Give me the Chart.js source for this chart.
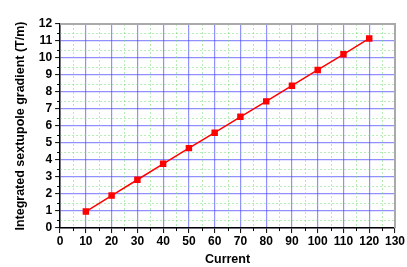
<!DOCTYPE html>
<html>
<head>
<meta charset="utf-8">
<script src="https://cdn.jsdelivr.net/npm/chart.js@4"></script>
<style>
  html, body { margin: 0; padding: 0; background: #fff; }
  #wrap { width: 407px; height: 267px; }
</style>
</head>
<body>
<div id="wrap"><canvas id="c" width="407" height="267"></canvas></div>
<script>
const currents = [10, 20, 30, 40, 50, 60, 70, 80, 90, 100, 110, 120];
const gradients = [0.97, 1.91, 2.84, 3.78, 4.70, 5.61, 6.54, 7.45, 8.37, 9.30, 10.22, 11.15];
const xTitle = "Current";
const yTitle = "Integrated sextupole gradient (T/m)";

const font = { family: "'Liberation Sans', Arial, sans-serif", weight: "bold", size: 12, lineHeight: 1.1 };

// minor dotted green grid + minor ticks, drawn with the chart's own scales
const minorGrid = {
  id: "minorGrid",
  beforeDatasetsDraw(chart) {
    const { ctx, chartArea: a, scales: { x, y } } = chart;
    ctx.save();
    ctx.strokeStyle = "rgba(120,220,120,0.55)";
    ctx.lineWidth = 1;
    ctx.setLineDash([2, 2]);
    for (let v = 5; v < 130; v += 10) {
      const px = Math.round(x.getPixelForValue(v)) + 0.5;
      ctx.beginPath(); ctx.moveTo(px, a.top); ctx.lineTo(px, a.bottom); ctx.stroke();
    }
    for (let v = 0.5; v < 12; v += 1) {
      const py = Math.round(y.getPixelForValue(v)) + 0.5;
      ctx.beginPath(); ctx.moveTo(a.left, py); ctx.lineTo(a.right, py); ctx.stroke();
    }
    ctx.setLineDash([]);
    ctx.strokeStyle = "#000";
    for (let v = 5; v < 130; v += 10) {
      const px = Math.round(x.getPixelForValue(v)) + 0.5;
      ctx.beginPath(); ctx.moveTo(px, a.bottom); ctx.lineTo(px, a.bottom + 3); ctx.stroke();
    }
    for (let v = 0.5; v < 12; v += 1) {
      const py = Math.round(y.getPixelForValue(v)) + 0.5;
      ctx.beginPath(); ctx.moveTo(a.left, py); ctx.lineTo(a.left - 3, py); ctx.stroke();
    }
    ctx.restore();
  }
};

new Chart(document.getElementById("c"), {
  type: "line",
  data: {
    datasets: [{
      data: currents.map((c, i) => ({ x: c, y: gradients[i] })),
      borderColor: "#ff0000",
      backgroundColor: "#ff0000",
      borderWidth: 1.5,
      pointStyle: "rect",
      pointRadius: 3.5,
      tension: 0
    }]
  },
  options: {
    responsive: false,
    animation: false,
    layout: { padding: { top: 24, right: 10, left: 10, bottom: 0 } },
    plugins: { legend: { display: false }, tooltip: { enabled: false } },
    scales: {
      x: {
        type: "linear", min: 0, max: 130,
        ticks: { stepSize: 10, color: "#000", font: font, padding: 2, maxRotation: 0, autoSkip: false },
        grid: { color: "rgba(70,70,255,0.6)", lineWidth: 1.2, tickColor: "#000", tickLength: 5, tickWidth: 1 },
        border: { color: "#000", width: 1.5 },
        title: { display: true, text: xTitle, color: "#000", font: { ...font, size: 12.5 }, padding: { top: 2, bottom: 1 } }
      },
      y: {
        type: "linear", min: 0, max: 12,
        ticks: { stepSize: 1, color: "#000", font: font, padding: 3, autoSkip: false },
        grid: { color: "rgba(70,70,255,0.6)", lineWidth: 1.2, tickColor: "#000", tickLength: 5, tickWidth: 1 },
        border: { color: "#000", width: 1.5 },
        title: { display: true, text: yTitle, color: "#000", font: { ...font, size: 12.5 }, padding: { bottom: 8 } }
      }
    }
  },
  plugins: [minorGrid, {
    id: "frame",
    afterDatasetsDraw(chart) {
      const { ctx, chartArea: a } = chart;
      ctx.save();
      ctx.strokeStyle = "#aaaaaa";
      ctx.lineWidth = 2;
      ctx.beginPath();
      ctx.moveTo(a.left, a.top); ctx.lineTo(a.right, a.top); ctx.lineTo(a.right, a.bottom);
      ctx.stroke();
      ctx.restore();
    }
  }]
});
</script>
</body>
</html>
